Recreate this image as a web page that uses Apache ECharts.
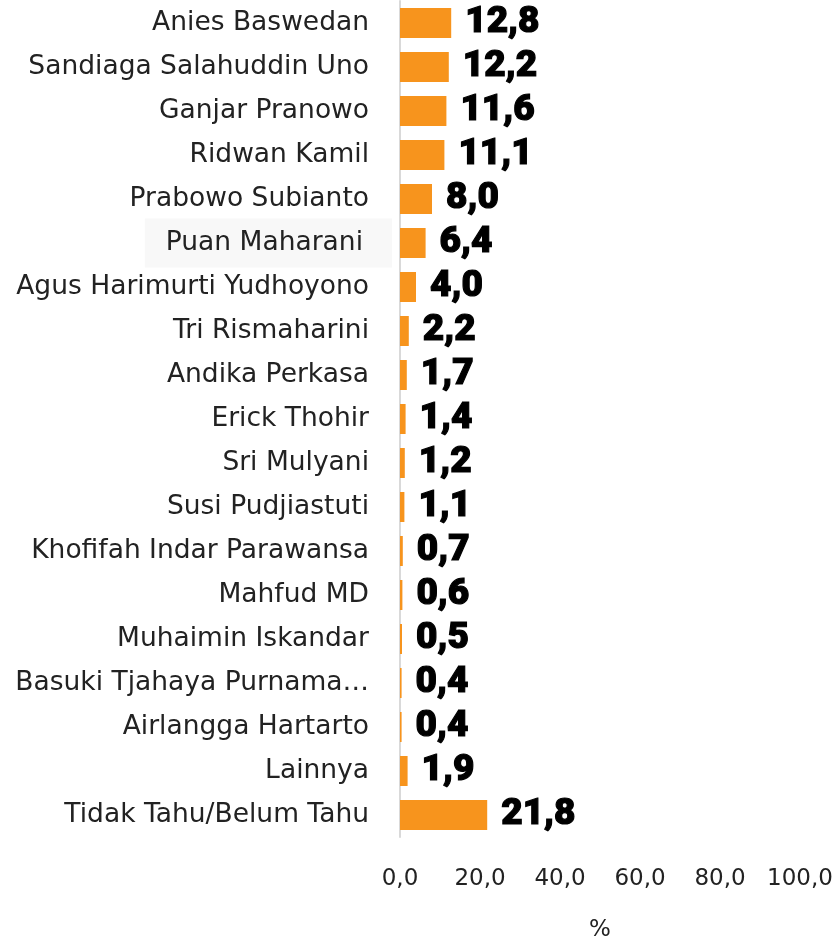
<!DOCTYPE html>
<html><head><meta charset="utf-8">
<script src="https://cdn.jsdelivr.net/npm/echarts@6/dist/echarts.min.js"></script>
<style>html,body{margin:0;padding:0;background:#fff}#c{width:835px;height:940px}</style>
</head><body><div id="c"></div>
<script>
var categories = ["Anies Baswedan","Sandiaga Salahuddin Uno","Ganjar Pranowo","Ridwan Kamil","Prabowo Subianto","Puan Maharani","Agus Harimurti Yudhoyono","Tri Rismaharini","Andika Perkasa","Erick Thohir","Sri Mulyani","Susi Pudjiastuti","Khofifah Indar Parawansa","Mahfud MD","Muhaimin Iskandar","Basuki Tjahaya Purnama…","Airlangga Hartarto","Lainnya","Tidak Tahu/Belum Tahu"];
var values = [12.8,12.2,11.6,11.1,8.0,6.4,4.0,2.2,1.7,1.4,1.2,1.1,0.7,0.6,0.5,0.4,0.4,1.9,21.8];
var xTicks = [0,20,40,60,80,100];
var highlighted = "Puan Maharani";

var fmt = function(v){ return v.toFixed(1).replace('.', ','); };
var LF = "DejaVu Sans";
var chart = echarts.init(document.getElementById('c'));
chart.setOption({
  animation:false,
  grid:{left:400,right:35,top:1,height:836,outerBoundsMode:'none',containLabel:false},
  xAxis:{type:'value',min:xTicks[0],max:xTicks[xTicks.length-1],interval:20,
    axisLine:{show:false},axisTick:{show:false},splitLine:{show:false},
    axisLabel:{formatter:fmt,fontFamily:LF,fontSize:23,color:'#222',margin:31},
    name:'%',nameLocation:'middle',nameGap:82,nameTextStyle:{fontFamily:LF,fontSize:23,color:'#222'}},
  yAxis:{type:'category',data:categories,inverse:true,
    axisLine:{show:true,lineStyle:{color:'#d9d9d9',width:2}},axisTick:{show:false},
    axisLabel:{margin:8,fontFamily:LF,fontSize:26.5,color:'#222',
      formatter:function(v){ return v===highlighted ? '{h|'+v+'}' : '{n|'+v+'}'; },
      rich:{
        n:{fontFamily:LF,fontSize:26.5,color:'#222',padding:[0,23,0,0]},
        h:{fontFamily:LF,fontSize:26.5,color:'#222',backgroundColor:'#f8f8f8',padding:[11,29,11,21]}
      }}},
  series:[{type:'bar',data:values,barWidth:30,itemStyle:{color:'#F7941D'},
    label:{show:true,position:'right',distance:14,formatter:function(p){return fmt(p.value);},
      fontFamily:'Roboto',fontWeight:900,fontSize:37,color:'#000',
      textBorderColor:'#000',textBorderWidth:1.2}}]
});
</script></body></html>
